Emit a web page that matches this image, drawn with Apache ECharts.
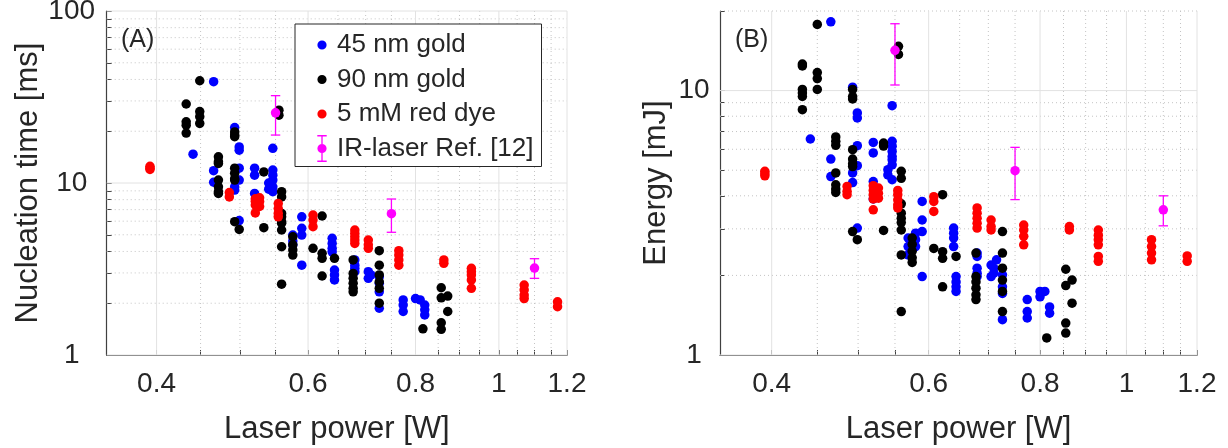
<!DOCTYPE html>
<html><head><meta charset="utf-8">
<script src="https://cdn.jsdelivr.net/npm/echarts@6/dist/echarts.min.js"></script>
<style>html,body{margin:0;padding:0;background:#fff}#c{width:1228px;height:448px}</style>
</head><body><div id="c"></div>
<script>
// ---------- tick values ----------
const xTicksMajor = [0.4, 0.6, 0.8, 1, 1.2];
const xTicksMinor = [0.45, 0.5, 0.55, 0.65, 0.7, 0.75, 0.85, 0.9, 0.95, 1.05, 1.1, 1.15];
const yMajorA = [1, 10, 100];
const yMinorA = [2, 3, 4, 5, 6, 7, 8, 9, 20, 30, 40, 50, 60, 70, 80, 90];
const yMajorB = [1, 10];
const yMinorB = [2, 3, 4, 5, 6, 7, 8, 9, 20];

// ---------- series names ----------
const seriesNames = ['45 nm gold', '90 nm gold', '5 mM red dye', 'IR-laser Ref. [12]'];

// ---------- Panel A: nucleation time [ms] vs laser power [W] ----------
const gold45A = [
  [0.441,14.7],[0.466,38.8],[0.466,11.8],[0.466,10.1],
  [0.493,21.0],[0.493,9.5],[0.493,9.1],
  [0.499,16.2],[0.499,15.5],[0.499,12.2],[0.499,10.4],[0.499,6.05],
  [0.520,12.2],[0.520,11.1],[0.520,8.7],
  [0.546,15.9],[0.546,11.9],[0.546,11.1],[0.546,10.4],[0.546,9.5],[0.546,8.9],[0.540,10.0],[0.540,9.2],
  [0.576,4.98],[0.576,4.6],[0.576,4.37],
  [0.590,6.36],[0.590,5.45],[0.590,4.98],[0.590,3.33],
  [0.640,4.77],[0.640,4.45],[0.640,4.17],[0.640,3.98],[0.644,3.12],[0.644,2.92],[0.644,2.73],
  [0.680,3.57],[0.680,3.33],[0.680,3.19],[0.680,3.05],
  [0.705,3.05],[0.710,2.92],[0.705,2.79],
  [0.726,2.85],[0.726,2.61],[0.726,2.33],[0.726,1.87],
  [0.774,2.09],[0.774,1.95],[0.774,1.79],
  [0.800,2.13],[0.810,2.09],[0.820,1.95],[0.820,1.83],[0.820,1.71]
];
const gold90A = [
  [0.433,28.8],[0.433,22.7],[0.433,21.7],[0.433,19.5],
  [0.449,39.3],[0.449,26.0],[0.449,24.3],[0.449,22.2],
  [0.472,14.2],[0.472,13.3],[0.472,13.0],[0.472,10.4],[0.472,9.5],[0.472,8.9],[0.472,8.7],
  [0.493,19.8],[0.493,19.0],[0.493,18.6],[0.493,12.2],[0.493,11.4],[0.493,10.6],[0.493,10.4],[0.493,5.96],
  [0.499,5.37],
  [0.533,11.6],[0.533,5.5],
  [0.555,26.5],[0.555,24.8],
  [0.559,8.9],[0.559,8.3],[0.559,6.65],[0.559,6.36],[0.559,5.96],[0.559,5.84],[0.559,5.33],[0.559,4.26],[0.559,2.58],
  [0.576,4.87],[0.576,4.37],[0.576,4.08],[0.576,3.81],
  [0.608,4.17],[0.623,6.43],[0.623,3.90],[0.623,3.65],[0.623,2.88],[0.644,3.65],
  [0.677,3.57],[0.677,2.98],[0.677,2.79],[0.677,2.61],[0.677,2.44],[0.677,2.33],
  [0.726,4.04],[0.726,3.33],[0.726,2.92],[0.726,2.66],[0.726,2.44],[0.726,2.0],
  [0.816,1.42],
  [0.857,2.46],[0.857,2.15],[0.857,1.54],[0.857,1.41],
  [0.872,2.20],[0.872,1.79]
];
const redDyeA = [
  [0.393,12.5],[0.393,12.2],[0.393,12.0],
  [0.486,8.8],[0.486,8.3],
  [0.521,8.1],[0.521,7.8],[0.521,7.45],[0.521,6.7],[0.527,8.2],[0.527,7.8],[0.527,7.3],
  [0.554,7.6],[0.554,7.1],[0.554,6.65],[0.554,6.36],
  [0.608,6.51],[0.608,6.09],[0.608,5.57],
  [0.680,5.33],[0.680,5.10],[0.680,4.87],[0.680,4.66],[0.680,4.45],
  [0.705,4.66],[0.705,4.37],[0.705,4.17],
  [0.765,4.04],[0.765,3.81],[0.765,3.57],[0.765,3.33],
  [0.863,3.57],[0.863,3.41],
  [0.929,3.19],[0.929,3.05],[0.929,2.92],[0.929,2.73],[0.929,2.44],
  [1.070,2.55],[1.070,2.39],[1.070,2.23],[1.070,2.13],
  [1.170,2.04],[1.170,1.91]
];
// [power, value, low, high]
const irLaserA = [[0.55,25.6,19.0,32.2],[0.75,6.63,5.17,8.07],[1.1,3.2,2.79,3.63]];

// ---------- Panel B: energy [mJ] vs laser power [W] ----------
const gold45B = [
  [0.442,6.56],[0.466,18.2],[0.466,5.51],[0.466,4.73],
  [0.493,10.3],[0.493,4.88],[0.493,4.49],
  [0.499,8.23],[0.499,7.88],[0.499,6.19],[0.499,5.2],[0.499,3.02],
  [0.520,6.37],[0.520,5.81],[0.520,4.53],[0.520,3.89],
  [0.546,8.77],[0.546,6.43],[0.546,6.16],[0.546,5.89],[0.546,5.63],[0.546,5.47],[0.546,5.24],[0.540,5.02],[0.540,4.8],[0.546,4.6],
  [0.569,2.77],[0.569,2.57],[0.569,2.39],[0.580,2.89],[0.580,2.73],[0.580,2.57],
  [0.590,3.81],[0.590,3.24],[0.590,2.93],[0.590,1.98],
  [0.640,3.02],[0.640,2.89],[0.640,2.77],[0.640,2.57],[0.644,1.98],[0.644,1.89],[0.644,1.81],[0.644,1.74],
  [0.680,2.43],[0.680,2.36],[0.680,2.13],[0.680,2.04],[0.680,1.98],
  [0.705,2.19],[0.710,2.13],[0.710,2.04],[0.705,1.98],[0.715,2.29],
  [0.726,2.01],[0.726,1.81],[0.726,1.71],[0.726,1.36],
  [0.774,1.62],[0.774,1.46],[0.774,1.38],
  [0.800,1.74],[0.810,1.74],[0.800,1.66],[0.820,1.52],[0.820,1.44]
];
const gold90B = [
  [0.433,12.6],[0.433,12.4],[0.433,10.1],[0.433,9.8],[0.433,9.5],[0.433,8.47],
  [0.450,17.8],[0.450,11.7],[0.450,11.1],[0.450,10.1],
  [0.472,6.68],[0.472,6.43],[0.472,6.21],[0.472,4.88],[0.472,4.40],[0.472,4.24],[0.472,4.12],
  [0.493,10.1],[0.493,9.5],[0.493,9.3],[0.493,5.98],[0.493,5.51],[0.493,5.29],[0.493,5.16],[0.493,2.93],
  [0.499,2.73],
  [0.534,6.33],[0.534,6.17],[0.534,2.96],
  [0.555,14.7],[0.555,13.7],
  [0.559,4.95],[0.559,4.66],[0.559,3.73],[0.559,3.44],[0.559,3.29],[0.559,3.17],[0.559,2.97],[0.559,2.39],[0.559,1.46],
  [0.575,2.77],[0.575,2.62],[0.575,2.47],[0.575,2.33],[0.575,2.24],
  [0.608,2.53],[0.622,4.04],[0.622,2.46],[0.622,2.32],[0.622,1.81],[0.644,2.36],
  [0.678,2.43],[0.678,1.98],[0.678,1.89],[0.678,1.79],[0.678,1.69],[0.678,1.62],
  [0.726,2.93],[0.726,2.43],[0.726,2.13],[0.726,1.92],[0.726,1.74],[0.726,1.46],
  [0.814,1.16],
  [0.855,2.11],[0.855,1.83],[0.855,1.32],[0.855,1.21],
  [0.869,1.92],[0.869,1.57]
];
const redDyeB = [
  [0.393,4.95],[0.393,4.85],[0.393,4.76],
  [0.486,4.34],[0.486,4.16],[0.486,4.04],
  [0.520,4.37],[0.520,4.19],[0.520,4.04],[0.520,3.89],[0.520,3.54],[0.527,4.28],[0.527,4.09],[0.527,3.92],
  [0.554,4.19],[0.554,4.04],[0.554,3.86],[0.554,3.7],[0.554,3.6],
  [0.608,3.97],[0.608,3.81],[0.608,3.49],
  [0.680,3.6],[0.680,3.44],[0.680,3.29],[0.680,3.15],[0.680,3.02],
  [0.705,3.24],[0.705,3.06],[0.705,2.97],
  [0.767,3.10],[0.767,2.97],[0.767,2.81],[0.767,2.61],
  [0.863,3.06],[0.863,2.97],
  [0.930,2.97],[0.930,2.84],[0.930,2.73],[0.930,2.61],[0.930,2.36],[0.930,2.26],
  [1.067,2.73],[1.067,2.57],[1.067,2.43],[1.067,2.29],
  [1.170,2.37],[1.170,2.26]
];
const irLaserB = [[0.55,14.2,10.5,17.9],[0.75,4.98,3.87,6.1],[1.1,3.54,3.08,4.0]];

// ---------- styling ----------
const FONT = '"Liberation Sans", Arial, Helvetica, sans-serif';
const TXT = '#262626';
const AXC = '#404040';
const COLORS = ['#0000ff', '#000000', '#ff0000', '#ff00ff'];
const MS = 9.5;

const chart = echarts.init(document.getElementById('c'), null, {renderer: 'canvas'});

function gridLines(gi, values, orient, major) {
  return {
    type: 'custom', xAxisIndex: gi, yAxisIndex: gi, silent: true, z: 1,
    data: values.map(v => orient === 'v' ? [v, 1] : [1, v]),
    encode: {x: 0, y: 1},
    renderItem: function (params, api) {
      const cs = params.coordSys;
      const st = major ? {stroke: '#e2e2e2', lineWidth: 1} : {stroke: '#c4c4c4', lineWidth: 1, lineDash: [1, 3]};
      if (orient === 'v') {
        const x = api.coord([api.value(0), api.value(1)])[0];
        return {type: 'line', shape: {x1: x, y1: cs.y, x2: x, y2: cs.y + cs.height}, style: st};
      } else {
        const y = api.coord([api.value(0), api.value(1)])[1];
        return {type: 'line', shape: {x1: cs.x, y1: y, x2: cs.x + cs.width, y2: y}, style: st};
      }
    }
  };
}

function errorBars(gi, data, name) {
  return {
    type: 'custom', name: name, xAxisIndex: gi, yAxisIndex: gi, z: 5, silent: true,
    data: data.map(d => [d[0], d[2], d[3]]),
    encode: {x: 0, y: [1, 2]},
    itemStyle: {color: COLORS[3]},
    renderItem: function (params, api) {
      const lo = api.coord([api.value(0), api.value(1)]);
      const hi = api.coord([api.value(0), api.value(2)]);
      const w = 4.7;
      const st = {stroke: COLORS[3], lineWidth: 1.3};
      return {type: 'group', children: [
        {type: 'line', shape: {x1: lo[0], y1: lo[1], x2: hi[0], y2: hi[1]}, style: st},
        {type: 'line', shape: {x1: lo[0] - w, y1: lo[1], x2: lo[0] + w, y2: lo[1]}, style: st},
        {type: 'line', shape: {x1: hi[0] - w, y1: hi[1], x2: hi[0] + w, y2: hi[1]}, style: st}
      ]};
    }
  };
}

function scatter(gi, data, idx) {
  return {
    type: 'scatter', name: seriesNames[idx], xAxisIndex: gi, yAxisIndex: gi,
    data: data.map(d => [d[0], d[1]]), symbol: 'circle', symbolSize: MS, z: 2 + idx,
    itemStyle: {color: COLORS[idx], opacity: 1}, silent: true
  };
}

function xAxis(gi) {
  return {
    gridIndex: gi, type: 'log', logBase: 10, min: 0.35, max: 1.2,
    name: 'Laser power [W]', nameLocation: 'middle', nameGap: 59,
    nameTextStyle: {fontSize: 31, color: TXT, fontFamily: FONT},
    axisLine: {show: true, onZero: false, lineStyle: {color: AXC, width: 1.2}},
    axisTick: {show: true, inside: true, length: 5, customValues: xTicksMajor.concat(xTicksMinor), lineStyle: {color: AXC, width: 1}},
    axisLabel: {show: true, customValues: xTicksMajor, fontSize: 28, color: TXT, fontFamily: FONT, margin: 15,
      formatter: v => String(Math.round(v * 100) / 100)},
    splitLine: {show: false}, minorTick: {show: false}
  };
}

function yAxis(gi, mn, mx, major, minor, name, gap, lblMargin) {
  return {
    gridIndex: gi, type: 'log', logBase: 10, min: mn, max: mx,
    name: name, nameLocation: 'middle', nameGap: gap,
    nameTextStyle: {fontSize: 31, color: TXT, fontFamily: FONT},
    axisLine: {show: true, onZero: false, lineStyle: {color: AXC, width: 1.2}},
    axisTick: {show: true, inside: true, length: 5, customValues: major.concat(minor), lineStyle: {color: AXC, width: 1}},
    axisLabel: {show: true, customValues: major, fontSize: 28, color: TXT, fontFamily: FONT, margin: lblMargin, align: 'center',
      formatter: v => String(Math.round(v))},
    splitLine: {show: false}
  };
}

const dot = 'M0,0h0.01v0.01h-0.01Z M19.99,27.99h0.01v0.01h-0.01Z M14.6,14A4.6,4.6 0 1 1 5.4,14A4.6,4.6 0 1 1 14.6,14Z';
const ebar = 'path://M0,0h0.01v0.01h-0.01Z M19.99,27.99h0.01v0.01h-0.01Z ' +
  'M9.35,1.2h1.3v25.6h-1.3Z M5.3,0.6h9.4v1.3h-9.4Z M5.3,26.1h9.4v1.3h-9.4Z ' +
  'M14.6,14A4.6,4.6 0 1 1 5.4,14A4.6,4.6 0 1 1 14.6,14Z';

const option = {
  animation: false,
  backgroundColor: '#ffffff',
  textStyle: {fontFamily: FONT},
  title: [
    {text: '(A)', left: 121, top: 28, padding: 0, textStyle: {fontSize: 25, fontWeight: 'normal', color: TXT, fontFamily: FONT}},
    {text: '(B)', left: 735, top: 28, padding: 0, textStyle: {fontSize: 25, fontWeight: 'normal', color: TXT, fontFamily: FONT}}
  ],
  legend: {
    show: true, orient: 'vertical', left: 295, top: 24,
    backgroundColor: '#ffffff', borderColor: '#262626', borderWidth: 1,
    padding: [7, 8, 4, 17], itemGap: 6.5, itemWidth: 20, itemHeight: 28, itemTextGap: 16,
    selectedMode: false,
    textStyle: {fontSize: 26, color: TXT, fontFamily: FONT, lineHeight: 28},
    data: [
      {name: seriesNames[0], icon: 'path://' + dot},
      {name: seriesNames[1], icon: 'path://' + dot},
      {name: seriesNames[2], icon: 'path://' + dot},
      {name: seriesNames[3], icon: ebar}
    ]
  },
  grid: [
    {left: 106.7, top: 11, width: 460.3, height: 344, containLabel: false, outerBoundsMode: 'none'},
    {left: 720, top: 11, width: 477, height: 344, containLabel: false, outerBoundsMode: 'none'}
  ],
  xAxis: [xAxis(0), xAxis(1)],
  yAxis: [
    yAxis(0, 1, 100, yMajorA, yMinorA, 'Nucleation time [ms]', 62, 35),
    yAxis(1, 1, 20, yMajorB, yMinorB, 'Energy [mJ]', 48, 26)
  ],
  series: [
    gridLines(0, xTicksMinor, 'v', false), gridLines(0, yMinorA, 'h', false),
    gridLines(0, xTicksMajor, 'v', true), gridLines(0, yMajorA, 'h', true),
    gridLines(1, xTicksMinor, 'v', false), gridLines(1, yMinorB, 'h', false),
    gridLines(1, xTicksMajor, 'v', true), gridLines(1, yMajorB, 'h', true),
    scatter(0, gold45A, 0), scatter(0, gold90A, 1), scatter(0, redDyeA, 2),
    errorBars(0, irLaserA, 'IR-laser error A'),
    Object.assign(scatter(0, irLaserA, 3), {z: 6}),
    scatter(1, gold45B, 0), scatter(1, gold90B, 1), scatter(1, redDyeB, 2),
    errorBars(1, irLaserB, 'IR-laser error B'),
    Object.assign(scatter(1, irLaserB, 3), {z: 6})
  ]
};
chart.setOption(option);
</script>
</body></html>
